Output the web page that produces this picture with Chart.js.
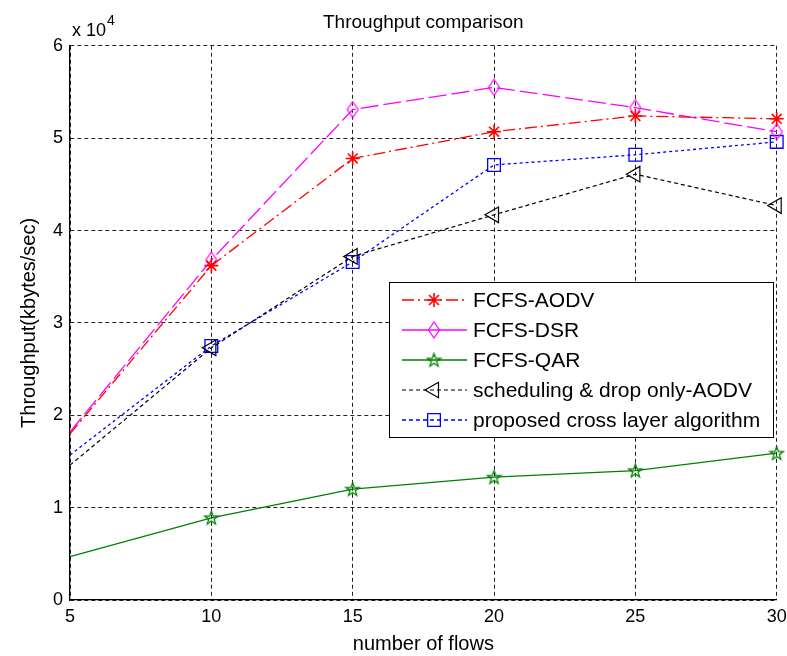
<!DOCTYPE html>
<html>
<head>
<meta charset="utf-8">
<script src="https://cdn.jsdelivr.net/npm/chart.js@4"></script>
<style>
  html, body { margin: 0; padding: 0; background: #fff; }
</style>
</head>
<body>
<canvas id="myChart" width="787" height="656"></canvas>
<script>
  // number of flows on the x axis
  const flows = [5, 10, 15, 20, 25, 30];
  // throughput in kbytes/sec (axis shows x 10^4)
  const fcfsAodv = [18000, 36200, 47800, 50700, 52400, 52100];
  const fcfsDsr = [18200, 36800, 53100, 55500, 53300, 50700];
  const fcfsQar = [4700, 8900, 12000, 13300, 14000, 15900];
  const schedDrop = [14600, 27300, 37200, 41700, 46100, 42700];
  const proposed = [15700, 27500, 36600, 47100, 48200, 49600];
  const seriesNames = ['FCFS-AODV', 'FCFS-DSR', 'FCFS-QAR', 'scheduling & drop only-AODV', 'proposed cross layer algorithm'];

  const fontFam = "'Liberation Sans', Arial, Helvetica, sans-serif";

  // little canvases for the markers chart.js does not have
  function pentagram(color) {
    const c = document.createElement('canvas');
    c.width = 17; c.height = 17;
    const g = c.getContext('2d');
    g.strokeStyle = color;
    g.lineWidth = 1.3;
    g.beginPath();
    for (let i = 0; i < 10; i++) {
      const r = i % 2 ? 2.8 : 7;
      const a = -Math.PI / 2 + i * Math.PI / 5;
      const px = 8.5 + r * Math.cos(a), py = 9 + r * Math.sin(a);
      if (i === 0) g.moveTo(px, py); else g.lineTo(px, py);
    }
    g.closePath();
    g.stroke();
    return c;
  }

  function diamond(color) {
    const c = document.createElement('canvas');
    c.width = 14; c.height = 18;
    const g = c.getContext('2d');
    g.strokeStyle = color;
    g.lineWidth = 1.2;
    g.beginPath();
    g.moveTo(7, 1); g.lineTo(12.5, 9); g.lineTo(7, 17); g.lineTo(1.5, 9);
    g.closePath();
    g.stroke();
    return c;
  }

  function toPoints(arr) {
    return arr.map((v, i) => ({ x: flows[i], y: v }));
  }

  // no marker on the first point, like the original
  const rad = r => flows.map((f, i) => i === 0 ? 0 : r);

  const datasets = [
    {
      label: seriesNames[0],
      data: toPoints(fcfsAodv),
      borderColor: '#ff0000',
      borderWidth: 1.3,
      borderDash: [12, 4, 2, 4],
      pointStyle: 'star',
      pointRadius: rad(7),
      pointBorderColor: '#ff0000',
      pointBorderWidth: 1.6,
      legendDash: [12, 4, 2, 4]
    },
    {
      label: seriesNames[1],
      data: toPoints(fcfsDsr),
      borderColor: '#ff00ff',
      borderWidth: 1.3,
      borderDash: [18, 5],
      pointStyle: diamond('#ff00ff'),
      pointRadius: rad(7),
      legendDash: []
    },
    {
      label: seriesNames[2],
      data: toPoints(fcfsQar),
      borderColor: '#008000',
      borderWidth: 1.3,
      borderDash: [],
      pointStyle: pentagram('#008000'),
      pointRadius: rad(7),
      legendDash: []
    },
    {
      label: seriesNames[3],
      data: toPoints(schedDrop),
      borderColor: '#000000',
      borderWidth: 1.2,
      borderDash: [4, 3],
      pointStyle: 'triangle',
      pointRotation: -90,
      pointRadius: rad(9),
      pointBorderColor: '#000000',
      pointBorderWidth: 1.2,
      legendDash: [4, 3]
    },
    {
      label: seriesNames[4],
      data: toPoints(proposed),
      borderColor: '#0000ff',
      borderWidth: 1.3,
      borderDash: [3, 3],
      pointStyle: 'rect',
      pointRadius: rad(9),
      pointBorderColor: '#0000ff',
      pointBorderWidth: 1.3,
      legendDash: [4, 3]
    }
  ];
  datasets.forEach(d => {
    d.fill = false;
    d.tension = 0;
    d.clip = false;
    d.pointBackgroundColor = 'rgba(0,0,0,0)';
    d.pointHoverRadius = d.pointRadius;
  });

  // "x 10^4" above the y axis
  const exponentLabel = {
    id: 'exponentLabel',
    afterDraw(chart) {
      const ctx = chart.ctx;
      const left = chart.chartArea.left;
      ctx.save();
      ctx.fillStyle = '#000';
      ctx.textBaseline = 'alphabetic';
      ctx.textAlign = 'left';
      ctx.font = '18px ' + fontFam;
      ctx.fillText('x 10', left + 2, 36);
      const w = ctx.measureText('x 10').width;
      ctx.font = '14px ' + fontFam;
      ctx.fillText('4', left + 3 + w, 25);
      ctx.restore();
    }
  };

  // matlab style legend: line sample with marker in the middle
  const matlabLegend = {
    id: 'matlabLegend',
    afterDatasetsDraw(chart) {
      const ctx = chart.ctx;
      const box = { left: 389, top: 282, right: 773, bottom: 437 };
      ctx.save();
      ctx.fillStyle = '#fff';
      ctx.fillRect(box.left, box.top, box.right - box.left, box.bottom - box.top);
      ctx.strokeStyle = '#000';
      ctx.lineWidth = 1;
      ctx.strokeRect(box.left + 0.5, box.top + 0.5, box.right - box.left, box.bottom - box.top);
      chart.data.datasets.forEach((ds, i) => {
        const y = box.top + 18 + i * 30;
        ctx.strokeStyle = ds.borderColor;
        ctx.lineWidth = ds.borderWidth;
        ctx.setLineDash(ds.legendDash);
        ctx.beginPath();
        ctx.moveTo(402, y);
        ctx.lineTo(467, y);
        ctx.stroke();
        ctx.setLineDash([]);
        if (Chart.helpers && Chart.helpers.drawPoint) {
          ctx.strokeStyle = ds.pointBorderColor || ds.borderColor;
          ctx.fillStyle = 'rgba(0,0,0,0)';
          ctx.lineWidth = ds.pointBorderWidth || 1.2;
          Chart.helpers.drawPoint(ctx, {
            pointStyle: ds.pointStyle,
            rotation: ds.pointRotation || 0,
            radius: ds.pointRadius[1],
            borderWidth: ds.pointBorderWidth || 1.2
          }, 434, y);
        }
        ctx.fillStyle = '#000';
        ctx.font = '21px ' + fontFam;
        ctx.textAlign = 'left';
        ctx.textBaseline = 'middle';
        ctx.fillText(ds.label, 473, y + 1);
      });
      ctx.restore();
    }
  };

  const ctx = document.getElementById('myChart').getContext('2d');
  const myChart = new Chart(ctx, {
    type: 'line',
    data: { datasets: datasets },
    plugins: [exponentLabel, matlabLegend],
    options: {
      responsive: false,
      animation: false,
      events: [],
      layout: { padding: { left: 0, right: 9, top: 0, bottom: 0 } },
      plugins: {
        legend: { display: false },
        tooltip: { enabled: false },
        title: {
          display: true,
          text: 'Throughput comparison',
          fullSize: false,
          color: '#000',
          font: { family: fontFam, size: 19, weight: 'normal' },
          padding: { top: 11, bottom: 12 }
        }
      },
      scales: {
        x: {
          type: 'linear',
          min: 5,
          max: 30,
          ticks: {
            stepSize: 5,
            color: '#000',
            padding: 6,
            font: { family: fontFam, size: 18 }
          },
          grid: {
            color: '#222',
            lineWidth: 1,
            drawTicks: false
          },
          // in v4 border.dash is the dash of the grid lines
          border: { display: true, color: '#000', width: 1.3, dash: [4, 3] },
          title: {
            display: true,
            text: 'number of flows',
            color: '#000',
            font: { family: fontFam, size: 20 },
            padding: { top: 0, bottom: 0 }
          },
          afterFit(scale) {
            scale.height = 56;
            scale.paddingLeft = 0;
            scale.paddingRight = 0;
          }
        },
        y: {
          min: 0,
          max: 60000,
          ticks: {
            stepSize: 10000,
            color: '#000',
            padding: 7,
            font: { family: fontFam, size: 18 },
            callback: v => v / 10000
          },
          grid: {
            color: '#222',
            lineWidth: 1,
            drawTicks: false
          },
          border: { display: true, color: '#000', width: 1.3, dash: [4, 3] },
          title: {
            display: true,
            text: 'Throughput(kbytes/sec)',
            color: '#000',
            font: { family: fontFam, size: 20 },
            padding: { top: 17, bottom: 0 }
          },
          afterFit(scale) {
            scale.width = 70;
          }
        }
      }
    }
  });
</script>
</body>
</html>
